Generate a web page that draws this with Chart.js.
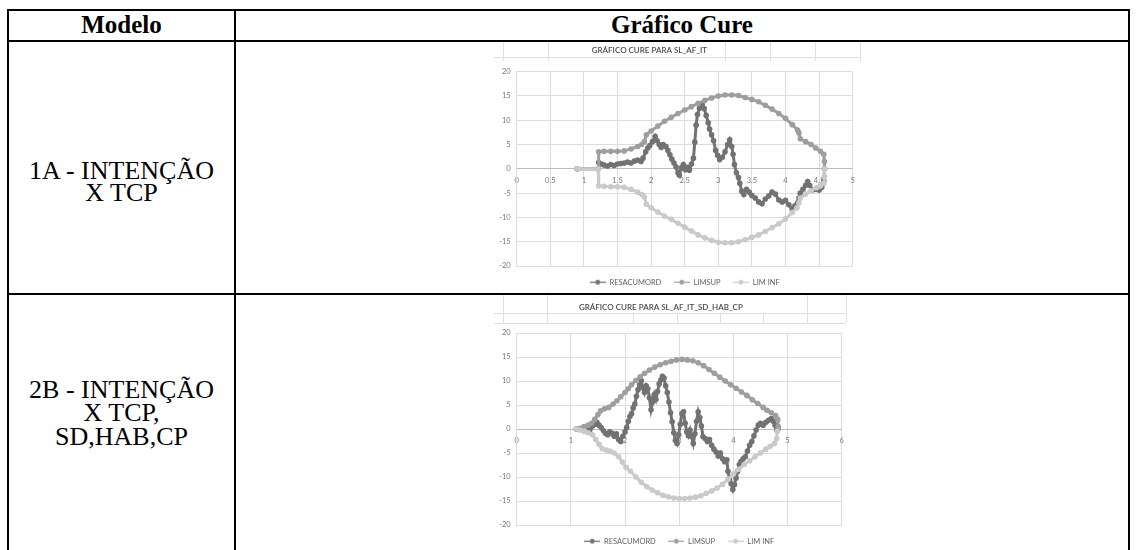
<!DOCTYPE html>
<html><head><meta charset="utf-8">
<script src="https://cdn.jsdelivr.net/npm/chart.js@4.4.1/dist/chart.umd.min.js"></script>
<style>
html,body{margin:0;padding:0;background:#fff;width:1136px;height:550px;overflow:hidden;}
body{position:relative;}
.ln{position:absolute;background:#000;}
.cl{position:absolute;background:#e0e0e0;}
.tx{position:absolute;font-family:"Liberation Serif","Times New Roman",serif;font-size:25px;line-height:25px;text-align:center;white-space:nowrap;color:#000;}
.r{font-size:26px;}
.b{font-weight:bold;}
.wrap{position:absolute;}
</style></head><body>

<!-- spreadsheet cell lines behind chart images -->
<div class="cl" style="left:494px;top:57px;width:366px;height:1px"></div>
<div class="cl" style="left:503px;top:42px;width:1px;height:19px"></div>
<div class="cl" style="left:548px;top:42px;width:1px;height:19px"></div>
<div class="cl" style="left:725px;top:42px;width:1px;height:19px"></div>
<div class="cl" style="left:770px;top:42px;width:1px;height:19px"></div>
<div class="cl" style="left:815px;top:42px;width:1px;height:19px"></div>
<div class="cl" style="left:860px;top:42px;width:1px;height:19px"></div>

<div class="cl" style="left:494px;top:313px;width:352px;height:1px"></div>
<div class="cl" style="left:494px;top:323px;width:352px;height:1px"></div>
<div class="cl" style="left:503px;top:295px;width:1px;height:28px"></div>
<div class="cl" style="left:547px;top:295px;width:1px;height:28px"></div>
<div class="cl" style="left:633px;top:313px;width:1px;height:10px"></div>
<div class="cl" style="left:677px;top:313px;width:1px;height:10px"></div>
<div class="cl" style="left:720px;top:313px;width:1px;height:10px"></div>
<div class="cl" style="left:763px;top:313px;width:1px;height:10px"></div>
<div class="cl" style="left:807px;top:295px;width:1px;height:28px"></div>
<div class="cl" style="left:846px;top:295px;width:1px;height:28px"></div>

<div class="wrap" style="left:446px;top:42px;width:424px;height:254px"><canvas id="c1"></canvas></div>
<div class="wrap" style="left:480px;top:295px;width:400px;height:260px"><canvas id="c2"></canvas></div>

<!-- table borders -->
<div class="ln" style="left:7px;top:9px;width:1123px;height:2px"></div>
<div class="ln" style="left:7px;top:40px;width:1123px;height:2px"></div>
<div class="ln" style="left:7px;top:293px;width:1123px;height:2px"></div>
<div class="ln" style="left:7px;top:9px;width:2px;height:560px"></div>
<div class="ln" style="left:234px;top:9px;width:2px;height:560px"></div>
<div class="ln" style="left:1128px;top:9px;width:2px;height:560px"></div>

<div class="tx b" style="left:9px;width:225px;top:12px">Modelo</div>
<div class="tx b" style="left:236px;width:892px;top:12px">Gráfico Cure</div>
<div class="tx r" style="left:9px;width:225px;top:158px">1A - INTENÇÃO</div>
<div class="tx r" style="left:9px;width:225px;top:180px">X TCP</div>
<div class="tx r" style="left:9px;width:225px;top:377px">2B - INTENÇÃO</div>
<div class="tx r" style="left:9px;width:225px;top:400px">X TCP,</div>
<div class="tx r" style="left:9px;width:225px;top:424px">SD,HAB,CP</div>

<script>
// ---- Data: Chart 1 (SL_AF_IT) ----
const c1ResX = [0.9,1.21,1.22,1.26,1.3,1.35,1.4,1.45,1.5,1.55,1.6,1.65,1.7,1.75,1.8,1.85,1.88,1.92,1.95,1.98,2.02,2.06,2.09,2.12,2.15,2.18,2.22,2.25,2.28,2.31,2.34,2.37,2.4,2.42,2.45,2.48,2.51,2.54,2.57,2.6,2.63,2.65,2.67,2.69,2.72,2.76,2.79,2.82,2.85,2.87,2.9,2.93,2.96,2.99,3.02,3.06,3.1,3.14,3.17,3.2,3.22,3.24,3.27,3.3,3.32,3.35,3.38,3.42,3.46,3.5,3.55,3.6,3.65,3.7,3.75,3.8,3.85,3.9,3.95,4.0,4.05,4.1,4.14,4.18,4.2,4.22,4.26,4.3,4.33,4.36,4.4,4.45,4.5,4.54,4.57,4.58];
const c1ResY = [0,0,1.3,1.0,0.8,0.6,0.9,0.7,1.0,1.1,1.2,1.4,1.2,1.6,1.8,1.5,2.2,3.5,4.3,4.8,5.6,6.7,5.8,5.0,4.4,5.0,4.6,3.8,2.9,2.0,1.2,0.4,-0.8,-1.3,0.2,0.9,-0.2,0.3,-0.3,1.0,2.2,5.5,9.0,11.2,12.5,13.3,12.4,11.0,9.5,8.2,7.0,5.8,3.8,2.8,1.9,2.4,3.5,5.0,6.0,4.6,3.0,0.9,-0.8,-1.8,-3.0,-4.6,-5.3,-4.2,-4.8,-5.5,-6.0,-6.8,-7.2,-6.2,-5.6,-4.8,-5.2,-6.4,-6.8,-6.5,-7.4,-8.3,-7.6,-7.0,-6.0,-5.0,-4.2,-3.4,-2.6,-3.4,-4.4,-4.2,-4.4,-3.8,-2.5,0];
const c1SupX = [0.9,1.21,1.22,1.3,1.4,1.5,1.6,1.7,1.8,1.86,1.9,1.93,2.0,2.1,2.2,2.3,2.4,2.5,2.6,2.7,2.8,2.9,3.0,3.1,3.2,3.3,3.4,3.5,3.6,3.7,3.8,3.9,4.0,4.1,4.18,4.2,4.22,4.3,4.38,4.45,4.52,4.57,4.58,4.58];
const c1SupY = [0,0,3.5,3.6,3.6,3.6,3.7,4.1,4.6,5.0,5.6,7.0,7.8,8.8,9.8,10.6,11.4,12.1,12.8,13.5,14.1,14.6,15.0,15.2,15.2,15.1,14.7,14.3,13.8,13.1,12.3,11.4,10.4,9.1,8.0,7.4,6.2,5.6,5.0,4.3,3.6,3.0,1.5,0];
const c1InfX = [0.9,1.21,1.22,1.3,1.4,1.5,1.6,1.7,1.8,1.86,1.9,1.93,2.0,2.1,2.2,2.3,2.4,2.5,2.6,2.7,2.8,2.9,3.0,3.1,3.2,3.3,3.4,3.5,3.6,3.7,3.8,3.9,4.0,4.1,4.17,4.2,4.22,4.3,4.38,4.46,4.52,4.57,4.58,4.58];
const c1InfY = [0,0,-3.5,-3.6,-3.7,-3.7,-3.8,-4.2,-4.8,-5.3,-5.8,-7.3,-8.0,-8.9,-9.7,-10.4,-11.2,-12.0,-12.8,-13.6,-14.2,-14.7,-15.1,-15.2,-15.2,-15.0,-14.6,-14.1,-13.6,-12.9,-12.1,-11.3,-10.3,-9.0,-8.0,-7.0,-6.0,-5.2,-4.5,-3.9,-3.5,-3.0,-1.5,0];

// ---- Data: Chart 2 (SL_AF_IT_SD_HAB_CP) ----
const c2ResX = [1.1,1.17,1.24,1.3,1.35,1.4,1.45,1.48,1.52,1.56,1.6,1.64,1.68,1.72,1.76,1.8,1.84,1.88,1.92,1.96,2.0,2.03,2.06,2.09,2.12,2.15,2.18,2.21,2.24,2.27,2.3,2.33,2.36,2.39,2.42,2.45,2.48,2.51,2.54,2.57,2.6,2.63,2.66,2.69,2.72,2.75,2.78,2.81,2.84,2.87,2.9,2.93,2.96,2.99,3.02,3.05,3.08,3.11,3.14,3.17,3.2,3.23,3.26,3.29,3.32,3.35,3.38,3.41,3.44,3.48,3.52,3.56,3.6,3.64,3.68,3.72,3.76,3.8,3.84,3.88,3.9,3.93,3.96,3.99,4.02,4.05,4.08,4.11,4.14,4.18,4.22,4.26,4.3,4.34,4.38,4.42,4.46,4.5,4.55,4.6,4.65,4.7,4.74,4.77,4.8];
const c2ResY = [0,0.1,0.4,0.2,-0.2,0.6,1.0,1.4,0.8,0.3,-0.3,-0.9,-1.2,-0.6,-0.9,-1.5,-1.0,-2.2,-2.6,-1.5,-0.6,0.3,1.6,2.6,3.2,4.4,5.2,6.8,8.2,9.2,10.1,8.6,7.6,9.0,8.4,6.5,4.0,5.6,7.2,6.2,7.8,9.4,10.2,11.0,10.6,9.0,7.6,5.6,3.4,1.5,-0.8,-2.4,-3.0,-1.2,1.0,3.2,3.6,1.2,-0.6,-1.4,-0.2,-1.6,-3.0,-1.0,1.6,3.6,2.4,0.6,-1.6,-2.0,-2.6,-2.2,-3.4,-4.2,-4.8,-5.6,-5.0,-6.2,-6.8,-6.4,-8.8,-10.6,-11.4,-12.6,-11.6,-10.2,-8.8,-7.4,-6.8,-6.2,-5.8,-4.6,-3.4,-2.6,-1.4,-0.2,0.8,1.2,0.8,1.4,1.8,2.2,1.6,0.8,-0.2];
const c2SupX = [1.1,1.17,1.25,1.32,1.38,1.44,1.5,1.55,1.62,1.7,1.78,1.85,1.92,2.0,2.06,2.12,2.2,2.28,2.36,2.45,2.55,2.65,2.75,2.85,2.95,3.05,3.15,3.25,3.35,3.45,3.55,3.65,3.75,3.85,3.95,4.05,4.15,4.25,4.35,4.45,4.55,4.62,4.7,4.78,4.82,4.83,4.83];
const c2SupY = [0,0.1,0.5,0.8,1.2,2.0,3.0,3.8,4.2,4.5,5.2,5.9,6.7,7.6,8.4,9.2,10.1,10.9,11.6,12.3,12.9,13.4,13.8,14.1,14.4,14.5,14.4,14.2,13.8,13.2,12.4,11.6,10.8,10.0,9.2,8.5,7.7,7.0,6.1,5.3,4.5,3.9,3.4,2.8,2.0,0.5,0];
const c2InfX = [1.1,1.17,1.25,1.32,1.4,1.46,1.52,1.58,1.65,1.72,1.8,1.88,1.95,2.02,2.1,2.2,2.3,2.4,2.5,2.6,2.7,2.8,2.9,3.0,3.1,3.2,3.3,3.4,3.5,3.6,3.7,3.8,3.9,4.0,4.1,4.2,4.3,4.4,4.5,4.6,4.68,4.76,4.8,4.81];
const c2InfY = [0,-0.2,-0.5,-0.8,-1.2,-2.2,-3.2,-4.1,-4.4,-4.6,-5.0,-5.8,-6.9,-8.0,-8.8,-10.0,-11.1,-12.0,-12.7,-13.3,-13.8,-14.1,-14.4,-14.5,-14.5,-14.4,-14.2,-13.9,-13.4,-12.9,-12.3,-11.5,-10.5,-9.4,-8.4,-7.4,-6.6,-5.8,-5.0,-4.2,-3.6,-3.0,-2.0,-0.5];

const seriesNames = ['RESACUMORD','LIMSUP','LIM INF'];
const chart1Title = 'GRÁFICO CURE PARA SL_AF_IT';
const chart2Title = 'GRÁFICO CURE PARA SL_AF_IT_SD_HAB_CP';
const yTicks = {min:-20, max:20, step:5};
const x1Ticks = {min:0, max:5, step:0.5};
const x2Ticks = {min:0, max:6, step:1};

// ---- Styles ----
const colors = ['#727272','#9e9e9e','#cacaca'];
const gridColor = '#dddddd';
const textColor = '#7a7a7a';
const fam = 'Lato, "Noto Sans", sans-serif';

function pairs(xs, ys){ return xs.map((x,i)=>({x:x, y:ys[i]})); }
function legendImg(color){
  const c=document.createElement('canvas'); c.width=16; c.height=7;
  const g=c.getContext('2d');
  g.strokeStyle=color; g.lineWidth=1.3; g.beginPath(); g.moveTo(0,3.5); g.lineTo(16,3.5); g.stroke();
  g.fillStyle=color; g.beginPath(); g.arc(8,3.5,2.4,0,Math.PI*2); g.fill();
  return c;
}
const imgs = colors.map(legendImg);

function ds(label, data, i){
  return {label, data, showLine:true, borderColor:colors[i], backgroundColor:colors[i],
    borderWidth:3, pointRadius:2.8, pointBorderWidth:0, pointHoverRadius:2.8, order:3-i};
}

function makeChart(id, sets, title, xt, o){
  new Chart(document.getElementById(id), {
    type:'scatter',
    data:{datasets: sets},
    options:{
      responsive:true, maintainAspectRatio:false, animation:false, devicePixelRatio:1,
      events:[],
      layout:{padding:{left:0, right:o.padRight, top:0, bottom:0}},
      plugins:{
        tooltip:{enabled:false},
        title:{display:true, text:title, color:'#4a4a4a', font:{family:fam, size:8, weight:'600'},
          padding:{top:o.tTop, bottom:o.tBottom}},
        legend:{display:true, position:'bottom', fullSize:false,
          labels:{usePointStyle:true, pointStyleWidth:16, padding:12.5, color:'#606060',
            font:{family:fam, size:7.5},
            sort:(a,b)=>a.datasetIndex-b.datasetIndex,
            generateLabels:(ch)=>{
              const items = Chart.defaults.plugins.legend.labels.generateLabels(ch);
              items.forEach(it=>{ it.pointStyle = imgs[it.datasetIndex]; });
              return items;
            }}}
      },
      scales:{
        x:{type:'linear', position:{y:0}, min:xt.min, max:xt.max,
          afterFit:(s)=>{ s.height = 0; },
          grid:{color:gridColor, drawTicks:false},
          border:{display:true, color:'#bdbdbd', width:1},
          ticks:{stepSize:xt.step, autoSkip:false, maxRotation:0, padding:7, color:textColor,
            font:{family:fam, size:7.5}, callback:(v)=>String(v)}},
        y:{type:'linear', position:'left', min:yTicks.min, max:yTicks.max,
          afterFit:(s)=>{ s.width = o.yWidth; },
          grid:{color:gridColor, drawTicks:false},
          border:{display:true, color:gridColor},
          ticks:{stepSize:yTicks.step, padding:6, color:textColor, font:{family:fam, size:7.5}}}
      }
    }
  });
}

makeChart('c1', [
  ds(seriesNames[0], pairs(c1ResX,c1ResY), 0),
  ds(seriesNames[1], pairs(c1SupX,c1SupY), 1),
  ds(seriesNames[2], pairs(c1InfX,c1InfY), 2)
], chart1Title, x1Ticks, {padRight:17.3, yWidth:70.7, tTop:3.2, tBottom:16.9});

makeChart('c2', [
  ds(seriesNames[0], pairs(c2ResX,c2ResY), 0),
  ds(seriesNames[1], pairs(c2SupX,c2SupY), 1),
  ds(seriesNames[2], pairs(c2InfX,c2InfY), 2)
], chart2Title, x2Ticks, {padRight:38.3, yWidth:36.7, tTop:7.2, tBottom:21.2});
</script>
</body></html>
